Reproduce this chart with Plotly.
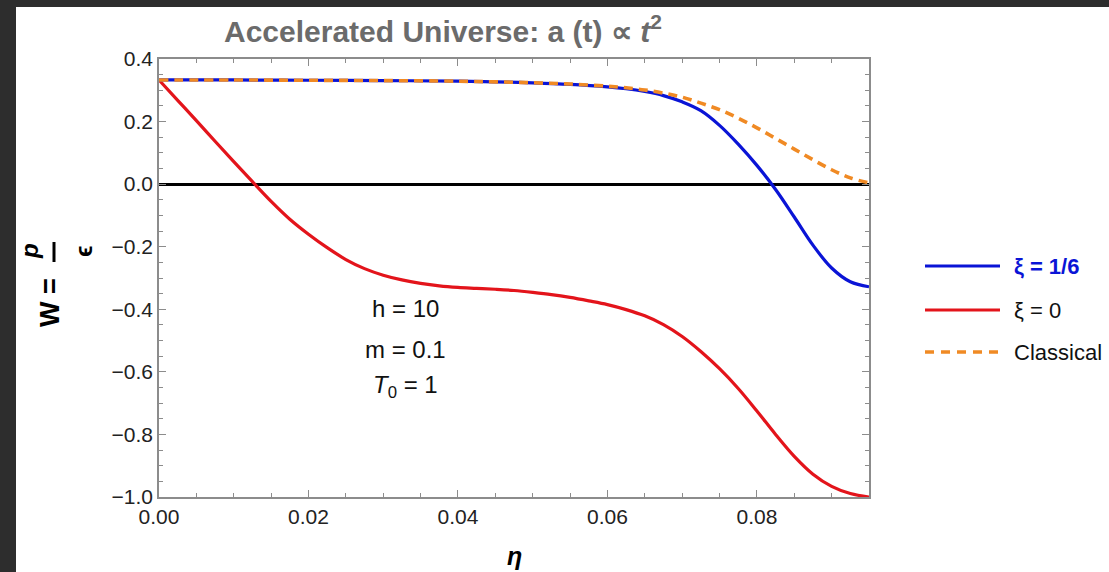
import plotly.graph_objects as go

# Equation-of-state parameter W = p/eps versus conformal time eta
eta_red = [0.0, 0.0025, 0.005, 0.0075, 0.01, 0.0125, 0.015, 0.0175, 0.02, 0.0225,
           0.025, 0.0275, 0.03, 0.0325, 0.035, 0.0375, 0.04, 0.0425, 0.045, 0.0475,
           0.05, 0.0525, 0.055, 0.0575, 0.06, 0.0625, 0.065, 0.0675, 0.07, 0.0725,
           0.075, 0.0775, 0.08, 0.0825, 0.085, 0.0875, 0.09, 0.0925, 0.095]
w_red = [0.333, 0.268, 0.203, 0.137, 0.072, 0.008, -0.055, -0.112, -0.160, -0.203,
         -0.241, -0.270, -0.291, -0.306, -0.317, -0.325, -0.330, -0.333, -0.336, -0.340,
         -0.346, -0.353, -0.362, -0.373, -0.385, -0.401, -0.421, -0.449, -0.487, -0.535,
         -0.590, -0.653, -0.725, -0.800, -0.870, -0.927, -0.966, -0.989, -1.0]

eta_blue = [0.0, 0.01, 0.02, 0.03, 0.04, 0.045, 0.05, 0.055, 0.06, 0.0625, 0.065,
            0.0675, 0.07, 0.0725, 0.075, 0.0775, 0.08, 0.0825, 0.085, 0.0875, 0.09,
            0.0925, 0.095]
w_blue = [0.333, 0.333, 0.332, 0.331, 0.329, 0.327, 0.324, 0.319, 0.311, 0.305, 0.296,
          0.283, 0.263, 0.235, 0.188, 0.128, 0.060, -0.017, -0.105, -0.195, -0.268,
          -0.312, -0.328]

eta_cls = [0.0, 0.01, 0.02, 0.03, 0.04, 0.045, 0.05, 0.055, 0.06, 0.0625, 0.065,
           0.0675, 0.07, 0.0725, 0.075, 0.0775, 0.08, 0.0825, 0.085, 0.0875, 0.09,
           0.0925, 0.095]
w_cls = [0.333, 0.333, 0.332, 0.331, 0.329, 0.327, 0.324, 0.320, 0.313, 0.308, 0.301,
         0.291, 0.278, 0.259, 0.238, 0.211, 0.180, 0.146, 0.112, 0.078, 0.046,
         0.020, 0.004]

x_ticks = [0.0, 0.02, 0.04, 0.06, 0.08]
y_ticks = [0.4, 0.2, 0.0, -0.2, -0.4, -0.6, -0.8, -1.0]

legend_names = ["ξ = 1/6", "ξ = 0", "Classical"]
params = ["h = 10", "m = 0.1", "<i>T</i><sub>0</sub> = 1"]

BLUE = "#0a14d6"
RED = "#e3141b"
ORANGE = "#f08a24"
FONT = "Liberation Sans, Arial, sans-serif"

W, H = 1109, 572
L, R, T, B = 159, 240, 59, 75
pw, ph = W - L - R, H - T - B


def px(x):
    return (x - L) / pw


def py(y):
    return (H - B - y) / ph


fig = go.Figure()
fig.add_trace(go.Scatter(x=eta_red, y=w_red, mode="lines", name=legend_names[1],
                         line=dict(color=RED, width=3.2, shape="spline", smoothing=1.0)))
fig.add_trace(go.Scatter(x=eta_blue, y=w_blue, mode="lines", name=legend_names[0],
                         line=dict(color=BLUE, width=3.2, shape="spline", smoothing=1.0)))
fig.add_trace(go.Scatter(x=eta_cls, y=w_cls, mode="lines", name=legend_names[2],
                         line=dict(color=ORANGE, width=3.6, dash="9px,6px",
                                   shape="spline", smoothing=1.0)))

axis_common = dict(
    showline=True, linecolor="#8c8c8c", linewidth=1.5, mirror="ticks",
    ticks="inside", ticklen=7, tickwidth=1, tickcolor="#8c8c8c",
    showgrid=False, tickfont=dict(family=FONT, size=21, color="#222222"),
)

fig.update_xaxes(
    range=[0, 0.095], tickvals=x_ticks, tickformat=".2f", zeroline=False,
    minor=dict(ticks="inside", dtick=0.005, ticklen=4, tickcolor="#8c8c8c", tick0=0),
    **axis_common,
)
fig.update_yaxes(
    range=[-1.0, 0.4], tickvals=y_ticks, tickformat=".1f",
    zeroline=True, zerolinecolor="black", zerolinewidth=3,
    minor=dict(ticks="inside", dtick=0.05, ticklen=4, tickcolor="#8c8c8c", tick0=0),
    **axis_common,
)

shapes = [
    # dark surround
    dict(type="rect", xref="paper", yref="paper", x0=px(0), x1=px(W), y0=py(0), y1=py(7),
         fillcolor="#2d2d2d", line=dict(width=0), layer="below"),
    dict(type="rect", xref="paper", yref="paper", x0=px(0), x1=px(16), y0=py(H), y1=py(0),
         fillcolor="#2d2d2d", line=dict(width=0), layer="below"),
    # fraction bar in the y label
    dict(type="line", xref="paper", yref="paper", x0=px(54), x1=px(54), y0=py(262), y1=py(242),
         line=dict(color="black", width=3)),
    # legend keys
    dict(type="line", xref="paper", yref="paper", x0=px(925), x1=px(1000), y0=py(266), y1=py(266),
         line=dict(color=BLUE, width=3.2)),
    dict(type="line", xref="paper", yref="paper", x0=px(925), x1=px(1000), y0=py(310), y1=py(310),
         line=dict(color=RED, width=3.2)),
    dict(type="line", xref="paper", yref="paper", x0=px(925), x1=px(999), y0=py(352), y1=py(352),
         line=dict(color=ORANGE, width=3.6, dash="9px,7px")),
]

annotations = [
    dict(text="Accelerated Universe: a (t) ∝ <i>t</i><sup>2</sup>", x=px(443), y=py(29),
         xref="paper", yref="paper", showarrow=False, xanchor="center", yanchor="middle",
         font=dict(family=FONT, size=30, color="#6b6b6b", weight="bold")),
    dict(text="<b><i>η</i></b>", x=px(514), y=py(556), xref="paper", yref="paper",
         showarrow=False, xanchor="center", yanchor="middle",
         font=dict(family=FONT, size=25, color="black")),
    dict(text="<b>W =</b>", x=px(50), y=py(303), xref="paper", yref="paper",
         showarrow=False, textangle=-90, xanchor="center", yanchor="middle",
         font=dict(family=FONT, size=27, color="black")),
    dict(text="<b><i>p</i></b>", x=px(29), y=py(251), xref="paper", yref="paper",
         showarrow=False, textangle=-90, xanchor="center", yanchor="middle",
         font=dict(family=FONT, size=24, color="black")),
    dict(text="<b>ϵ</b>", x=px(84), y=py(252), xref="paper", yref="paper",
         showarrow=False, textangle=-90, xanchor="center", yanchor="middle",
         font=dict(family=FONT, size=24, color="black")),
    dict(text="<b>" + legend_names[0] + "</b>", x=px(1012), y=py(266), xref="paper", yref="paper",
         showarrow=False, xanchor="left", yanchor="middle",
         font=dict(family=FONT, size=22, color=BLUE)),
    dict(text=legend_names[1], x=px(1012), y=py(310), xref="paper", yref="paper",
         showarrow=False, xanchor="left", yanchor="middle",
         font=dict(family=FONT, size=22, color="#111111")),
    dict(text=legend_names[2], x=px(1012), y=py(352), xref="paper", yref="paper",
         showarrow=False, xanchor="left", yanchor="middle",
         font=dict(family=FONT, size=22, color="#111111")),
]
for txt, yy in zip(params, [-0.396, -0.527, -0.646]):
    annotations.append(dict(text=txt, x=0.033, y=yy, xref="x", yref="y", showarrow=False,
                            xanchor="center", yanchor="middle",
                            font=dict(family=FONT, size=24, color="#111111")))

fig.update_layout(
    width=W, height=H, margin=dict(l=L, r=R, t=T, b=B),
    paper_bgcolor="white", plot_bgcolor="white", showlegend=False,
    shapes=shapes, annotations=annotations,
)

fig.write_html("out.html")
